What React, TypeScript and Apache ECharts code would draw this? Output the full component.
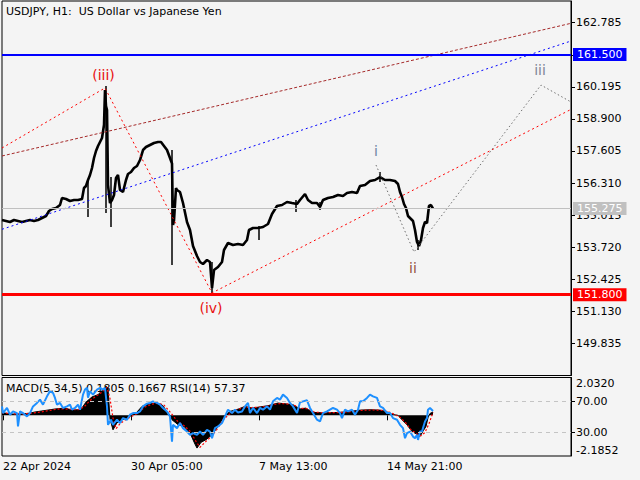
import React, { useEffect, useRef } from 'react';
import * as echarts from 'echarts';

const FONT = 'DejaVu Sans';

// x axis: bar positions (1 bar per pixel column), labels
const timeLabelBars = [3, 131, 259, 387];
const timeLabels = ['22 Apr 2024', '30 Apr 05:00', '7 May 13:00', '14 May 21:00'];

// price axis ticks
const priceTicks = [162.785, 161.49, 160.195, 158.9, 157.605, 156.31, 155.015, 153.72, 152.425, 151.13, 149.835];

// key levels
const resistanceLevel = 161.5;
const supportLevel = 151.8;
const lastPrice = 155.275;

// sampled closes [bar, price]
const closes: [number, number][] = [
  [2, 154.815], [6, 154.775], [10, 154.735], [14, 154.815], [18, 154.775], [22, 154.735], [26, 154.775],
  [30, 154.815], [34, 154.775], [38, 154.815], [42, 154.896], [46, 154.977], [49, 155.179], [52, 155.26],
  [56, 155.3], [60, 155.421], [62, 155.704], [66, 155.664], [70, 155.583], [74, 155.623], [78, 155.623],
  [82, 155.664], [84, 156.108], [86, 156.189], [88, 156.431], [90, 156.633], [92, 156.916], [94, 157.32],
  [96, 157.603], [98, 157.805], [100, 157.966], [102, 158.128], [104, 158.653], [105, 160.067], [106, 159.42],
  [107, 159.259], [108, 156.229], [110, 155.502], [112, 155.623], [114, 155.825], [116, 156.512], [118, 156.633],
  [120, 156.027], [123, 155.946], [126, 156.431], [128, 156.674], [131, 156.754], [134, 156.916], [137, 156.997],
  [140, 157.239], [143, 157.643], [146, 157.764], [150, 157.845], [154, 157.926], [158, 157.966], [161, 157.966],
  [164, 157.805], [167, 157.643], [170, 157.32], [172, 157.1], [173, 154.613], [174, 154.8], [176, 156.108],
  [177, 156.027], [180, 155.946], [183, 155.502], [187, 154.735], [190, 154.411], [193, 153.765], [197, 153.361],
  [200, 153.119], [203, 153.038], [207, 153.2], [210, 153.119], [212, 152.069], [214, 152.796], [218, 152.917],
  [222, 153.119], [224, 153.604], [228, 153.886], [233, 153.806], [238, 153.846], [243, 153.806], [247, 154.008],
  [249, 154.411], [253, 154.492], [258, 154.492], [263, 154.533], [268, 154.654], [272, 155.058], [277, 155.381],
  [282, 155.421], [287, 155.543], [292, 155.502], [297, 155.462], [300, 155.623], [305, 155.866], [308, 155.623],
  [312, 155.502], [317, 155.502], [320, 155.34], [323, 155.623], [328, 155.704], [333, 155.744], [338, 155.825],
  [343, 155.785], [347, 155.906], [352, 155.946], [357, 155.906], [360, 156.189], [365, 156.229], [370, 156.391],
  [375, 156.431], [380, 156.552], [385, 156.431], [390, 156.431], [395, 156.391], [398, 156.27], [400, 155.946],
  [402, 155.744], [404, 155.462], [406, 155.3], [408, 154.977], [410, 154.896], [413, 154.775], [415, 154.411],
  [417, 153.927], [419, 153.765], [421, 154.008], [423, 154.492], [425, 154.735], [427, 154.694], [429, 155.381],
  [431, 155.421], [433, 155.275],
];

// long wicks [bar, high, low]
const spikes: [number, number, number][] = [
  [88, 156.431, 154.937], [106, 160.228, 155.098], [111, 156.552, 154.533], [172, 157.643, 152.998],
  [212, 153.119, 151.867], [259, 154.573, 154.008], [296, 155.623, 155.139], [320, 155.543, 155.219],
  [380, 156.754, 156.35], [418, 154.008, 153.604],
];

// drawn objects
const waveLine: [number, number][] = [[2, 157.724], [105, 160.15], [212, 151.87], [571, 159.283]];
const projectionLine: [number, number][] = [[376, 157.037], [414, 153.523], [541, 160.268], [571, 159.582]];
const channelLine: [number, number][] = [[2, 157.401], [571, 162.761]];
const trendLine: [number, number][] = [[2, 154.44], [571, 162.046]];

const waveLabelText = ['(iii)', '(iv)', 'i', 'ii', 'iii'];
const waveLabelPos: [number, number][] = [[103.5, 160.672], [211, 151.261], [376, 157.615], [413, 152.877], [540, 160.874]];
const waveLabelColor = ['#e81010', '#e81010', '#6f86a3', '#94503c', '#7f8696'];

// MACD main (histogram) [bar, value]
const macdMain: [number, number][] = [
  [2, 0.15], [10, 0.07], [20, 0.06], [30, 0.12], [35, 0.18], [45, 0.26], [55, 0.34], [65, 0.39], [72, 0.28],
  [78, 0.3], [82, 0.4], [86, 0.71], [92, 0.99], [98, 1.11], [103, 1.38], [106, 1.56], [108, 1.45], [110, -0.2],
  [113, -0.78], [117, -0.4], [122, -0.24], [128, -0.13], [132, 0.02], [136, 0.12], [142, 0.48], [150, 0.62],
  [156, 0.66], [162, 0.57], [167, 0.21], [170, 0.0], [172, -0.24], [178, -0.5], [184, -0.6], [190, -0.95],
  [195, -1.55], [197, -1.76], [201, -1.45], [206, -1.31], [212, -1.05], [218, -0.6], [224, -0.06], [230, 0.21],
  [238, 0.33], [245, 0.48], [252, 0.39], [260, 0.45], [268, 0.52], [278, 0.66], [285, 0.62], [293, 0.57],
  [300, 0.34], [306, 0.39], [312, 0.16], [320, 0.14], [330, 0.14], [340, 0.16], [350, 0.21], [360, 0.28],
  [370, 0.3], [380, 0.28], [386, 0.21], [392, 0.05], [398, 0.0], [402, -0.24], [407, -0.51], [412, -0.87],
  [418, -1.05], [420, -1.14], [423, -0.85], [426, -0.6], [428, -0.13], [430, 0.1], [433, 0.18],
];

// MACD signal [bar, value]
const macdSignal: [number, number][] = [
  [2, 0.14], [10, 0.09], [20, 0.07], [30, 0.1], [40, 0.17], [50, 0.27], [60, 0.35], [70, 0.33], [78, 0.3],
  [84, 0.45], [90, 0.8], [96, 1.02], [102, 1.25], [107, 1.5], [110, 0.9], [113, -0.15], [116, -0.72],
  [120, -0.45], [126, -0.22], [132, -0.05], [138, 0.12], [145, 0.45], [152, 0.6], [158, 0.65], [164, 0.55],
  [169, 0.25], [173, -0.02], [178, -0.35], [184, -0.55], [190, -0.85], [196, -1.4], [200, -1.72], [205, -1.45],
  [211, -1.15], [217, -0.75], [223, -0.25], [229, 0.05], [236, 0.28], [244, 0.43], [252, 0.42], [260, 0.44],
  [268, 0.5], [278, 0.63], [286, 0.62], [294, 0.55], [301, 0.38], [308, 0.35], [314, 0.18], [322, 0.14],
  [332, 0.14], [342, 0.16], [352, 0.2], [362, 0.27], [372, 0.29], [382, 0.27], [389, 0.18], [395, 0.04],
  [401, -0.15], [406, -0.42], [411, -0.78], [417, -1.0], [421, -1.1], [425, -0.92], [429, -0.45], [433, 0.17],
];

// RSI(14) [bar, value]
const rsi: [number, number][] = [
  [2, 63.2], [3, 54.7], [7, 61.2], [10, 52.6], [13, 56.8], [17, 54.7], [18, 37.6], [20, 56.8], [23, 54.7],
  [27, 50.4], [30, 54.7], [33, 63.2], [37, 67.6], [40, 71.8], [43, 65.4], [47, 76.0], [50, 82.4], [53, 80.4],
  [55, 74.0], [57, 65.4], [60, 67.6], [63, 61.2], [67, 63.2], [70, 65.4], [72, 59.0], [75, 61.2], [78, 65.4],
  [80, 59.0], [83, 78.2], [85, 84.6], [87, 86.8], [88, 74.4], [90, 82.4], [93, 78.2], [97, 84.6], [100, 86.8],
  [103, 84.6], [105, 86.8], [107, 63.2], [108, 39.7], [111, 46.2], [113, 39.7], [117, 46.2], [120, 41.9],
  [123, 48.3], [127, 46.2], [130, 52.6], [133, 54.7], [137, 54.7], [140, 56.8], [143, 63.2], [147, 66.7],
  [150, 67.6], [153, 69.6], [157, 67.6], [160, 65.4], [163, 61.2], [167, 56.8], [170, 50.4], [172, 18.3],
  [173, 39.7], [177, 35.5], [180, 41.9], [183, 35.5], [187, 31.2], [190, 26.9], [193, 29.1], [197, 26.9],
  [200, 31.2], [203, 26.9], [207, 33.3], [210, 31.2], [212, 22.7], [215, 35.5], [218, 37.6], [222, 41.9],
  [225, 50.4], [228, 59.0], [232, 54.7], [235, 59.0], [238, 55.4], [242, 56.8], [245, 63.2], [248, 67.6],
  [250, 54.7], [253, 61.2], [257, 54.7], [260, 61.2], [263, 59.0], [267, 63.2], [270, 59.0], [273, 69.6],
  [277, 74.0], [280, 71.8], [283, 78.2], [287, 74.0], [290, 67.6], [293, 63.2], [297, 54.7], [300, 68.5],
  [303, 69.6], [307, 70.9], [310, 61.2], [313, 54.7], [317, 46.2], [320, 44.0], [323, 54.7], [327, 56.8],
  [330, 59.0], [333, 61.2], [337, 59.0], [340, 54.7], [342, 48.3], [345, 59.0], [348, 56.8], [352, 59.0],
  [355, 52.6], [358, 59.0], [360, 69.6], [363, 69.6], [367, 74.0], [370, 78.2], [373, 76.0], [377, 74.0],
  [380, 63.2], [383, 61.2], [387, 54.7], [390, 54.7], [393, 48.3], [397, 46.2], [400, 39.7], [403, 35.5],
  [405, 22.7], [407, 29.1], [410, 31.2], [413, 24.7], [415, 22.7], [417, 26.9], [418, 20.5], [420, 31.2],
  [422, 31.2], [423, 35.5], [425, 44.0], [427, 48.3], [428, 59.0], [430, 61.2], [433, 57.4],
];
const rsiLevels = [70, 30];
const macdMax = 2.032;
const macdMin = -2.1852;

const txt = { fontFamily: FONT, fontSize: 11, color: '#000' };

function buildOption(): any {
  const boxLabel = (text: string, bg: string) => ({
    show: true, position: 'end', formatter: text, backgroundColor: bg, color: '#fff',
    padding: [1, 4, 1, 4], distance: 2, fontFamily: FONT, fontSize: 11,
  });
  const trend = (data: [number, number][], color: string, dash: number[], z = 4) => ({
    type: 'line', xAxisIndex: 0, yAxisIndex: 0, data, symbol: 'none', silent: true, z,
    lineStyle: { color, width: 1, type: dash }, clip: true,
  });
  return {
    animation: false,
    backgroundColor: '#f4f4f4',
    title: [
      { text: 'USDJPY, H1:  US Dollar vs Japanese Yen', left: 6, top: 6, padding: 0, z: 1,
        textStyle: { ...txt, fontWeight: 'normal' } },
      { text: 'MACD(5,34,5) 0.1805 0.1667 RSI(14) 57.37', left: 6, top: 383, padding: 0, z: 1,
        textStyle: { ...txt, fontWeight: 'normal' } },
    ],
    grid: [
      { left: 2, top: 1, width: 569, height: 374.5, show: true, borderColor: '#000', borderWidth: 1, backgroundColor: 'transparent' },
      { left: 2, top: 377.5, width: 569, height: 78.5, show: true, borderColor: '#000', borderWidth: 1, backgroundColor: 'transparent' },
    ],
    xAxis: [
      { type: 'value', gridIndex: 0, min: 2, max: 571, show: false },
      {
        type: 'value', gridIndex: 1, min: 2, max: 571,
        axisLine: { show: false }, splitLine: { show: false },
        axisTick: { show: true, customValues: timeLabelBars, length: 5, lineStyle: { color: '#000' } },
        axisLabel: {
          ...txt, customValues: timeLabelBars, align: 'left', margin: 5,
          formatter: (v: number) => {
            const i = timeLabelBars.findIndex((b) => Math.abs(b - v) < 0.5);
            return i >= 0 ? timeLabels[i] : '';
          },
        },
      },
    ],
    yAxis: [
      {
        type: 'value', gridIndex: 0, position: 'right', min: 148.534, max: 163.662, splitLine: { show: false },
        axisLine: { show: true, lineStyle: { color: '#000' } },
        axisTick: { show: true, customValues: priceTicks, length: 4, lineStyle: { color: '#000' } },
        axisLabel: { ...txt, customValues: priceTicks, margin: 5, formatter: (v: number) => v.toFixed(3) },
      },
      {
        type: 'value', gridIndex: 1, position: 'right', min: macdMin, max: macdMax, splitLine: { show: false },
        axisLine: { show: true, lineStyle: { color: '#000' } }, axisTick: { show: false },
        axisLabel: { ...txt, customValues: [macdMax], margin: 5, verticalAlign: 'top', formatter: (v: number) => v.toFixed(4) },
      },
      {
        type: 'value', gridIndex: 1, position: 'right', min: macdMin, max: macdMax, splitLine: { show: false },
        axisLine: { show: false }, axisTick: { show: false },
        axisLabel: { ...txt, customValues: [macdMin], margin: 5, verticalAlign: 'bottom', formatter: (v: number) => v.toFixed(4) },
      },
      {
        type: 'value', gridIndex: 1, position: 'right', min: 0, max: 100, splitLine: { show: false },
        axisLine: { show: false },
        axisTick: { show: true, customValues: rsiLevels, length: 4, lineStyle: { color: '#000' } },
        axisLabel: { ...txt, customValues: rsiLevels, margin: 5, formatter: (v: number) => v.toFixed(2) },
      },
    ],
    series: [
      {
        type: 'line', name: 'levels', xAxisIndex: 0, yAxisIndex: 0, data: [], silent: true, z: 2,
        markLine: {
          symbol: ['none', 'none'], silent: true, animation: false,
          data: [
            { yAxis: lastPrice, lineStyle: { color: '#c0c0c0', width: 1, type: 'solid' }, label: boxLabel(lastPrice.toFixed(3), '#c0c0c0') },
            { yAxis: resistanceLevel, lineStyle: { color: '#0000ff', width: 2, type: 'solid' }, label: boxLabel(resistanceLevel.toFixed(3), '#0000ff') },
            { yAxis: supportLevel, lineStyle: { color: '#ff0000', width: 3, type: 'solid' }, label: boxLabel(supportLevel.toFixed(3), '#ff0000') },
            {
              yAxis: supportLevel, lineStyle: { opacity: 0, width: 0 },
              label: { show: true, position: 'insideEndTop', formatter: '0.0', color: '#b22222', fontFamily: FONT, fontSize: 11, distance: 1 },
            },
          ],
        },
      },
      trend(channelLine, '#a52a2a', [3, 2]),
      trend(trendLine, '#0000ff', [2, 3]),
      trend(waveLine, '#ff0000', [2, 3]),
      trend(projectionLine, '#707070', [1.5, 2.5]),
      {
        type: 'line', name: 'price', xAxisIndex: 0, yAxisIndex: 0, data: closes, symbol: 'none', z: 3,
        lineStyle: { color: '#000', width: 2.6 },
      },
      {
        type: 'custom', name: 'wicks', xAxisIndex: 0, yAxisIndex: 0, data: spikes, z: 3,
        encode: { x: 0, y: [1, 2] },
        renderItem: (_p: any, api: any) => {
          const a = api.coord([api.value(0), api.value(1)]);
          const b = api.coord([api.value(0), api.value(2)]);
          return { type: 'line', shape: { x1: a[0], y1: a[1], x2: b[0], y2: b[1] }, style: { stroke: '#000', lineWidth: 1.5 } };
        },
      },
      {
        type: 'scatter', name: 'waves', xAxisIndex: 0, yAxisIndex: 0, symbolSize: 1, silent: true, z: 5,
        itemStyle: { color: 'rgba(0,0,0,0)', opacity: 1 },
        label: { show: true, position: 'inside', fontFamily: FONT, fontSize: 14, opacity: 1 },
        data: waveLabelPos.map((p, i) => ({ value: p, label: { formatter: waveLabelText[i], color: waveLabelColor[i] } })),
      },
      {
        type: 'line', name: 'macd', xAxisIndex: 1, yAxisIndex: 1, data: macdMain, symbol: 'none', z: 2,
        lineStyle: { color: '#000', width: 1 }, areaStyle: { color: '#000', opacity: 1 },
      },
      {
        type: 'line', name: 'signal', xAxisIndex: 1, yAxisIndex: 1, data: macdSignal, symbol: 'none', z: 3,
        lineStyle: { color: '#ff0000', width: 1.2, type: [2, 2] },
      },
      {
        type: 'line', name: 'rsi', xAxisIndex: 1, yAxisIndex: 3, data: rsi, symbol: 'none', z: 4,
        lineStyle: { color: '#1e90ff', width: 2 },
        markLine: {
          symbol: ['none', 'none'], silent: true, animation: false, label: { show: false },
          lineStyle: { color: '#c4c4c4', width: 1, type: [4, 4] },
          data: rsiLevels.map((v) => ({ yAxis: v })),
        },
      },
    ],
  };
}

export default function App() {
  const ref = useRef<HTMLDivElement>(null);
  useEffect(() => {
    if (!ref.current) return;
    const chart = echarts.init(ref.current, undefined, { renderer: 'svg' });
    chart.setOption(buildOption());
    return () => chart.dispose();
  }, []);
  return <div ref={ref} style={{ position: 'fixed', left: 0, top: 0, width: 640, height: 480 }} />;
}
